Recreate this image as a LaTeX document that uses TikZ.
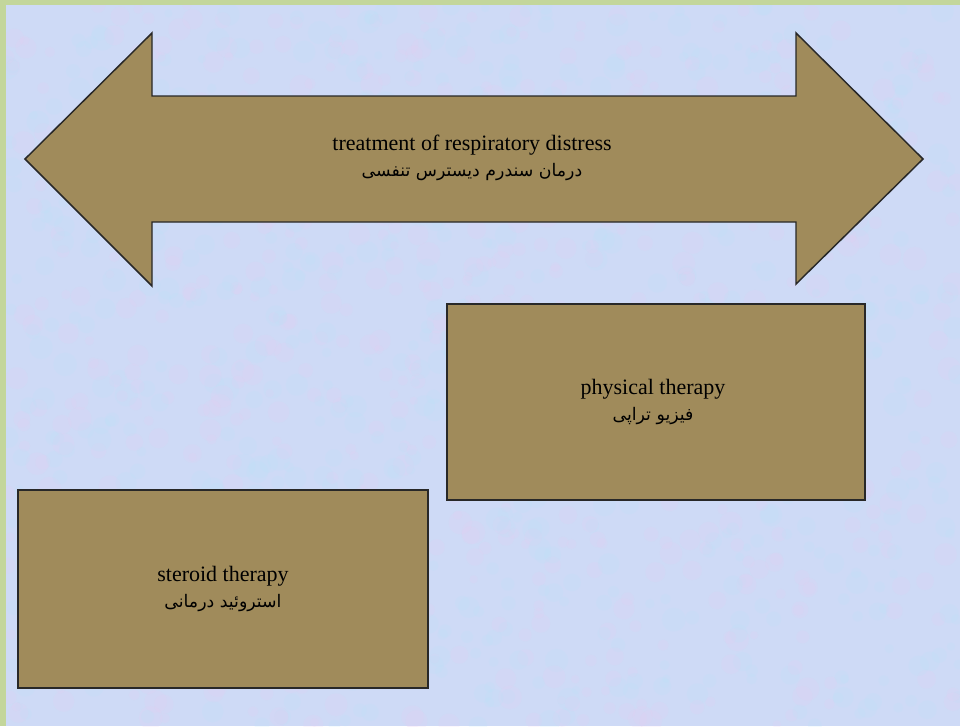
\documentclass[tikz,border=0pt]{standalone}
\usepackage{fontspec}
\setmainfont{Liberation Serif}
\newfontfamily\arabicfont[Script=Arabic]{DejaVu Sans}
\TeXXeTstate=1
\definecolor{pagegreen}{RGB}{195,214,155}
\definecolor{paper}{RGB}{206,218,246}
\definecolor{paperpink}{RGB}{232,204,242}
\definecolor{papercyan}{RGB}{184,228,246}
\definecolor{tan}{RGB}{160,139,91}
\definecolor{edge}{RGB}{40,40,40}
\tikzset{
  panel/.style={draw=edge, fill=tan, line width=1.1pt, line join=miter},
  caption/.style={align=center, font=\fontsize{16.5}{20}\selectfont, text=black, inner sep=0pt},
}
\newcommand{\fa}[1]{{\arabicfont\fontsize{13}{20}\selectfont\beginR #1\endR}}
\begin{document}
\begin{tikzpicture}[x=0.75pt, y=-0.75pt]
  % page with green margin
  \fill[pagegreen] (0,0) rectangle (960,726);
  \fill[paper] (6,5) rectangle (960,726);
  % faint mottled paper texture
  \pgfmathsetseed{7}
  \begin{scope}
    \clip (6,5) rectangle (960,726);
    \foreach \i in {1,...,1400} {
      \pgfmathsetmacro{\px}{6+954*rnd}
      \pgfmathsetmacro{\py}{5+721*rnd}
      \pgfmathsetmacro{\pr}{4+8*rnd}
      \pgfmathsetmacro{\pc}{rnd}
      \ifdim\pc pt<0.5pt
        \fill[paperpink, opacity=0.16] (\px,\py) circle[radius=\pr*0.75pt];
      \else
        \fill[papercyan, opacity=0.16] (\px,\py) circle[radius=\pr*0.75pt];
      \fi
    }
  \end{scope}
  \useasboundingbox (0,0) rectangle (960,726);

  % double-headed arrow
  \draw[panel] (25,159) -- (152,33) -- (152,96) -- (796,96) -- (796,33)
     -- (923,159) -- (796,284) -- (796,222) -- (152,222) -- (152,286) -- cycle;
  \node[caption] (title) at (472,158)
    {treatment of respiratory distress\\ \fa{درمان سندرم دیسترس تنفسی}};

  % therapy boxes
  \node[panel, minimum width=418*0.75pt, minimum height=196*0.75pt,
        inner sep=0pt] (phys) at (656,402) {};
  \node[caption] (physlabel) at (653,402)
    {physical therapy\\ \fa{فیزیو تراپی}};

  \node[panel, minimum width=410*0.75pt, minimum height=198*0.75pt,
        inner sep=0pt] (ster) at (223,589) {};
  \node[caption] (sterlabel) at (ster.center)
    {steroid therapy\\ \fa{استروئید درمانی}};
\end{tikzpicture}
\end{document}
